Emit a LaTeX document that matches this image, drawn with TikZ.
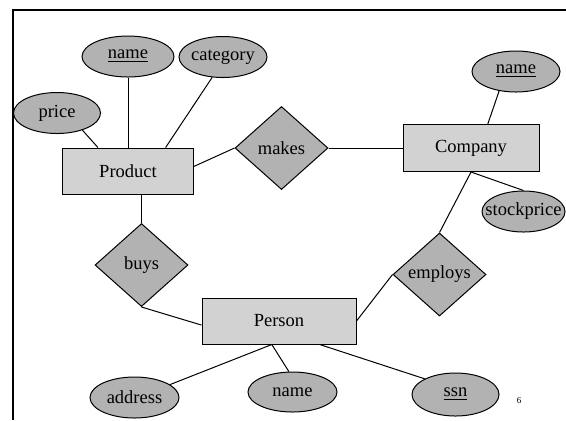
\documentclass[tikz,border=0pt]{standalone}
\usepackage{fontspec}
\setmainfont{Liberation Serif}
\usetikzlibrary{shapes.geometric,positioning}

\tikzset{
  entity/.style={draw, fill=gray!35, rectangle, minimum height=23pt, inner sep=0pt},
  relation/.style={draw, fill=gray!60, diamond, minimum width=46.5pt, minimum height=41.5pt, inner sep=0pt},
  attr/.style={draw, fill=gray!60, ellipse, minimum width=44pt, minimum height=20.5pt, inner xsep=-4.5pt, inner ysep=0pt},
  link/.style={line width=0.5pt}
}

\begin{document}
\begin{tikzpicture}[x=0.5pt, y=-0.5pt, line width=0.5pt, font=\fontsize{9.25}{11}\selectfont]
	  \useasboundingbox (0,0) rectangle (566,420);
	  \draw[line width=1.25pt] (13,420) -- (13,10) -- (566,10); % slide frame

	  \node[entity, minimum width=65.5pt] at (128,171) (product) {Product} ; %
	  \node[attr, above=35pt of product, minimum width=46pt] (pname) {\underline{name}};
	  \node[attr] at (223,57) (category) {category};
	  \node[attr, minimum width=43.5pt] at (57,113) (price) {price};

	  \node[relation] at (281.5,148) (makes) {makes};
	  \node[entity, right=37pt of makes, minimum width=68pt, minimum height=23.5pt] (company) {Company};
	  \node[attr] at (516,71.5) (cname) {\underline{name}};
	  \node[attr, minimum width=41.5pt] at (523.5,211.5) (stock) {stockprice};

	  \node[relation] at (439.5,274.5) (employs) {employs};
	  \node[relation] at (141.5,265) (buys) {buys};

	  \node[entity, minimum width=77pt] at (279,321) (person) {Person};
	  \node[attr, minimum width=44.5pt] at (134.5,397.5) (address) {address};
	  \node[attr, minimum width=44.5pt, minimum height=20pt] at (292.5,392) (pername) {name};
	  \node[attr, minimum width=43.5pt, minimum height=21.5pt] at (455.5,394.5) (ssn) {\underline{ssn}};

	  \node[font=\fontsize{4.5}{5}\selectfont] at (519,401) (pageno) {6};

	  \draw[link] (price.-34) -- (product.142) ;
	  \draw[link] (pname) -- (product) ;
	  \draw[link] (category.-118) -- (product.32) ;
	  \draw[link] (product.4) -- (makes.west) ;
	  \draw[link] (makes) -- (company) ;
	  \draw[link] (company.55) -- (cname.-131) ;
	  \draw[link] (company.south) -- (stock.north) ;
	  \draw[link] (company.south) -- (employs.north) ;
	  \draw[link] (employs.west) -- (person.east) ;
	  \draw[link] (product.south -| buys.north) -- (buys.north) ;
	  \draw[link] (buys.south) -- (person.183) ;
	  \draw[link] (person.-107) -- (address.20) ;
	  \draw[link] (person.-107) -- (pername.100) ;
	  \draw[link] (person.-30.5) -- (ssn.153) ;
\end{tikzpicture}
\end{document}
